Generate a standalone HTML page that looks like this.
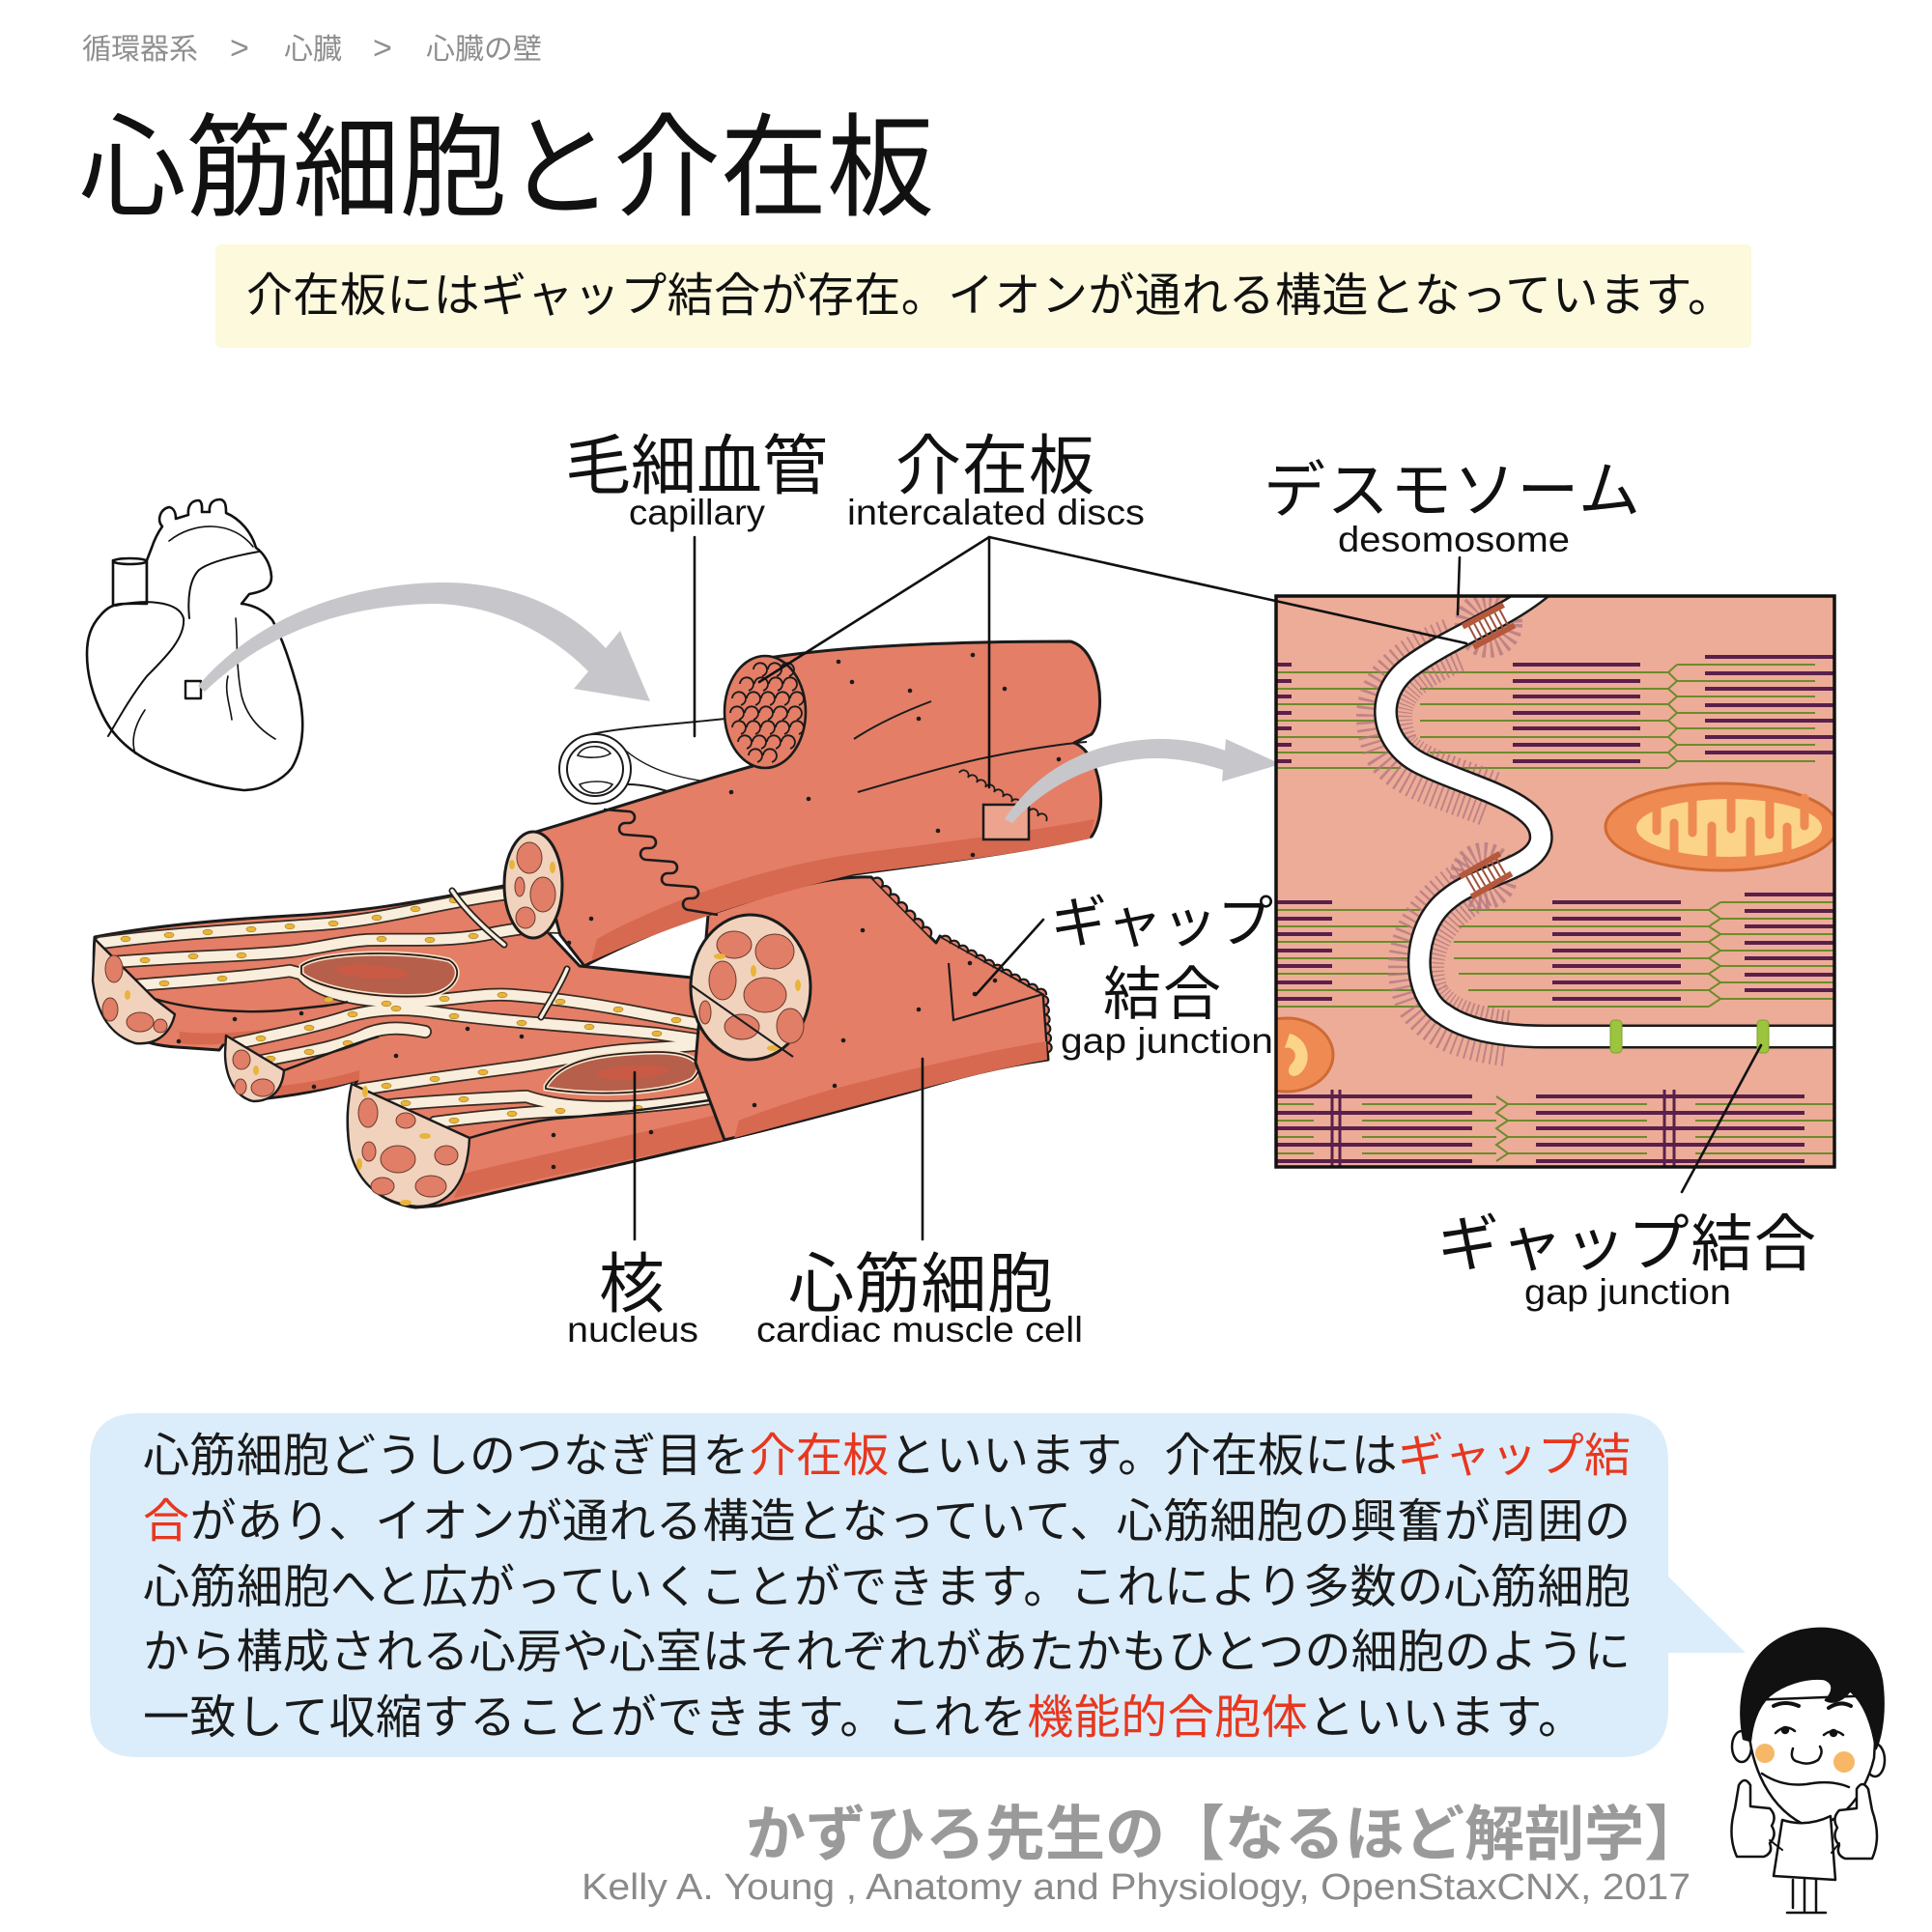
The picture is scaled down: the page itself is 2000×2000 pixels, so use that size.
<!DOCTYPE html>
<html><head><meta charset="utf-8">
<style>
html,body{margin:0;padding:0;background:#fff;}
svg{display:block;}
.jp{font-family:"Liberation Sans","Noto Sans CJK JP",sans-serif;}
.en{font-family:"Liberation Sans",sans-serif;}
</style></head><body>
<svg width="2000" height="2000" viewBox="0 0 2000 2000" xmlns="http://www.w3.org/2000/svg">
<defs>
  <clipPath id="bx"><rect x="1322" y="618" width="577" height="590"/></clipPath>
  <g id="stripes">
    <path d="M104,976 C180,966 260,962 330,957 C400,952 450,935 525,925"/>
    <path d="M118,996 C190,990 250,990 300,985 C330,982 350,975 380,973 C420,972 460,975 500,968 C530,962 555,958 580,960"/>
    <path d="M140,1020 C200,1015 250,1012 300,1005 L312,1008 C330,1030 380,1040 440,1036 C480,1034 500,1028 530,1030 C580,1034 620,1040 680,1052 C720,1060 760,1066 800,1070"/>
    <path d="M245,1080 C290,1070 330,1062 360,1052 C390,1044 420,1043 450,1048 C520,1058 600,1062 680,1070 C720,1076 760,1082 800,1085"/>
    <path d="M262,1100 C310,1090 350,1085 380,1070 C400,1062 420,1064 440,1068"/>
    <path d="M372,1128 C420,1120 480,1112 540,1104 C580,1098 620,1088 660,1086 C710,1084 750,1078 800,1075"/>
    <path d="M395,1145 C440,1140 500,1137 545,1135 C560,1140 580,1145 620,1146 C680,1147 730,1138 790,1128"/>
    <path d="M450,1162 C510,1154 560,1150 610,1149 C670,1147 730,1138 790,1126"/>
  </g>
</defs>

<!-- breadcrumb -->
<g class="jp" fill="#8e8e8e" font-size="30">
  <text x="85" y="61">循環器系</text>
  <text x="294" y="61">心臓</text>
  <text x="441" y="61">心臓の壁</text>
</g>
<g class="en" fill="#8e8e8e" font-size="34">
  <text x="238" y="61">&gt;</text>
  <text x="386" y="61">&gt;</text>
</g>

<!-- title -->
<text class="jp" x="82" y="214" font-size="116" fill="#111" textLength="885" lengthAdjust="spacingAndGlyphs">心筋細胞と介在板</text>

<!-- yellow box -->
<rect x="223" y="253" width="1590" height="107" rx="6" fill="#fcf9dd"/>
<text class="jp" x="255" y="322" font-size="48" fill="#111" textLength="1540">介在板にはギャップ結合が存在。イオンが通れる構造となっています。</text>

<!-- heart -->
<g fill="none" stroke="#111" stroke-width="2.6" stroke-linejoin="round" stroke-linecap="round">
  <path fill="#fff" d="M117,627 L117,580 L152,580 L152,625 Z"/>
  <ellipse cx="134.5" cy="581" rx="17.5" ry="3" fill="#fff"/>
  <path fill="#fff" d="M152,580 L157,567 C160,558 163,552 168,545 C162,538 166,527 175,525 C181,526 182,533 182,537 L195,533 C194,524 198,518 206,518 C210,520 209,527 209,530 L217,530 C216,522 220,517 228,517 C234,518 234,525 234,531 C248,537 260,550 265,567 C272,572 280,582 281,597 C281,608 274,612 258,615 L250,625 C262,626 274,632 282,642 C292,660 302,690 310,720 C316,750 314,775 302,795 C292,808 272,818 252,818 C230,816 200,808 165,793 C140,782 118,765 106,740 C96,720 90,700 90,677 C90,660 94,648 104,637 C110,630 114,628 120,626 C130,624 140,625 152,625 Z"/>
  <path stroke-width="1.6" d="M175,560 C200,540 240,538 262,566"/>
  <path stroke-width="2" d="M196,640 C194,620 196,600 206,590 C216,582 240,576 268,571"/>
  <path stroke-width="2" d="M120,627 C150,620 185,622 190,640 C192,660 172,680 152,700 C136,720 122,745 112,762"/>
  <path stroke-width="1.6" d="M244,640 C246,660 244,690 250,720 C255,740 268,755 285,765"/>
  <path stroke-width="1.6" d="M236,700 C232,715 238,730 240,745"/>
  <path stroke-width="1.6" d="M150,735 C140,750 135,765 140,780"/>
  <rect x="192" y="705" width="16" height="18" stroke-width="2.4"/>
</g>

<!-- arrow 1 -->
<path fill="#c7c7cb" d="M205,710 C260,645 350,605 455,603 C530,602 590,630 627,671 L642,653 L673,726 L594,713 L609,695 C575,660 520,628 455,625 C350,625 270,660 212,716 Z"/>

<!-- lower fiber group silhouette -->
<path fill="#e47e66" stroke="#1b1b1b" stroke-width="3" stroke-linejoin="round" d="M98,970 C160,958 230,952 300,948 C380,944 440,932 522,917 L600,1000 L716,1012 L800,1060 L950,1128 C870,1150 800,1168 750,1180 C650,1205 550,1225 455,1248 L430,1250 C395,1245 368,1225 361,1180 C358,1150 362,1130 370,1118 C340,1128 300,1135 259,1139 C245,1130 234,1105 236,1075 L227,1087 L183,1084 C150,1082 120,1070 105,1040 C98,1020 96,995 98,970 Z"/>
<!-- side shading -->
<path fill="#d6694f" d="M470,1240 C550,1222 650,1200 750,1180 L950,1128 C1000,1115 1050,1103 1085,1097 L1083,1075 C1000,1090 900,1110 800,1140 C700,1165 560,1195 480,1215 Z"/>
<path fill="#d6694f" d="M185,1080 C220,1084 260,1078 300,1072 L300,1062 C260,1068 220,1072 186,1068 Z"/>
<path fill="#d6694f" d="M268,1136 C300,1132 340,1128 372,1118 L372,1108 C340,1118 300,1124 268,1126 Z"/>
<!-- stripes -->
<use href="#stripes" fill="none" stroke="#3a2a22" stroke-width="14" stroke-linecap="round"/>
<use href="#stripes" fill="none" stroke="#f9eedc" stroke-width="10.5" stroke-linecap="round"/>
<!-- yellow dots -->
<g fill="#e9b43a" stroke="#a77a1c" stroke-width="0.6">
  <ellipse cx="130" cy="972" rx="5" ry="2.8"/><ellipse cx="175" cy="968" rx="5" ry="2.8"/><ellipse cx="215" cy="965" rx="5" ry="2.8"/><ellipse cx="260" cy="962" rx="5" ry="2.8"/><ellipse cx="300" cy="959" rx="5" ry="2.8"/><ellipse cx="345" cy="956" rx="5" ry="2.8"/><ellipse cx="390" cy="950" rx="5" ry="2.8"/><ellipse cx="430" cy="941" rx="5" ry="2.8"/><ellipse cx="470" cy="932" rx="5" ry="2.8"/>
  <ellipse cx="150" cy="994" rx="5" ry="2.8"/><ellipse cx="200" cy="990" rx="5" ry="2.8"/><ellipse cx="250" cy="989" rx="5" ry="2.8"/><ellipse cx="395" cy="972" rx="5" ry="2.8"/><ellipse cx="445" cy="973" rx="5" ry="2.8"/><ellipse cx="490" cy="969" rx="5" ry="2.8"/><ellipse cx="540" cy="960" rx="5" ry="2.8"/>
  <ellipse cx="170" cy="1018" rx="5" ry="2.8"/><ellipse cx="230" cy="1013" rx="5" ry="2.8"/><ellipse cx="340" cy="1035" rx="5" ry="2.8"/><ellipse cx="400" cy="1039" rx="5" ry="2.8"/><ellipse cx="460" cy="1034" rx="5" ry="2.8"/><ellipse cx="520" cy="1030" rx="5" ry="2.8"/><ellipse cx="580" cy="1037" rx="5" ry="2.8"/><ellipse cx="640" cy="1045" rx="5" ry="2.8"/><ellipse cx="700" cy="1056" rx="5" ry="2.8"/><ellipse cx="760" cy="1066" rx="5" ry="2.8"/>
  <ellipse cx="270" cy="1075" rx="5" ry="2.8"/><ellipse cx="320" cy="1064" rx="5" ry="2.8"/><ellipse cx="365" cy="1050" rx="5" ry="2.8"/><ellipse cx="410" cy="1044" rx="5" ry="2.8"/><ellipse cx="470" cy="1052" rx="5" ry="2.8"/><ellipse cx="540" cy="1059" rx="5" ry="2.8"/><ellipse cx="610" cy="1063" rx="5" ry="2.8"/><ellipse cx="680" cy="1070" rx="5" ry="2.8"/><ellipse cx="750" cy="1080" rx="5" ry="2.8"/>
  <ellipse cx="280" cy="1096" rx="5" ry="2.8"/><ellipse cx="320" cy="1089" rx="5" ry="2.8"/><ellipse cx="360" cy="1080" rx="5" ry="2.8"/>
  <ellipse cx="400" cy="1124" rx="5" ry="2.8"/><ellipse cx="450" cy="1117" rx="5" ry="2.8"/><ellipse cx="500" cy="1110" rx="5" ry="2.8"/><ellipse cx="740" cy="1081" rx="5" ry="2.8"/><ellipse cx="775" cy="1077" rx="5" ry="2.8"/>
  <ellipse cx="420" cy="1142" rx="5" ry="2.8"/><ellipse cx="480" cy="1138" rx="5" ry="2.8"/><ellipse cx="740" cy="1136" rx="5" ry="2.8"/>
  <ellipse cx="470" cy="1160" rx="5" ry="2.8"/><ellipse cx="530" cy="1153" rx="5" ry="2.8"/><ellipse cx="580" cy="1150" rx="5" ry="2.8"/><ellipse cx="660" cy="1147" rx="5" ry="2.8"/>
</g>
<!-- intercalated lines in fibers -->
<g fill="none" stroke-linecap="round">
  <path d="M468,922 C480,940 500,960 522,978" stroke="#222" stroke-width="7"/>
  <path d="M468,922 C480,940 500,960 522,978" stroke="#f9eedc" stroke-width="3.5"/>
  <path d="M587,1003 C580,1020 570,1035 560,1053" stroke="#222" stroke-width="7"/>
  <path d="M587,1003 C580,1020 570,1035 560,1053" stroke="#f9eedc" stroke-width="3.5"/>
</g>
<!-- fiber edges -->
<g fill="none" stroke="#1b1b1b" stroke-width="2.4">
  <path d="M102,979 L160,1034 C200,1046 260,1050 300,1045 C330,1042 350,1040 360,1037"/>
  <path d="M236,1076 L294,1108 C330,1095 360,1082 392,1073"/>
  <path d="M366,1124 L486,1178 C520,1168 550,1161 575,1158 C650,1152 720,1142 790,1130"/>
</g>
<!-- nuclei -->
<g stroke="#f6e4cc" stroke-width="5">
  <path fill="#b65f4b" d="M312,1000 C330,985 420,983 465,994 C482,1004 472,1028 440,1031 C390,1034 330,1024 312,1008 Z"/>
  <path fill="#b65f4b" d="M565,1124 C580,1100 612,1090 680,1089 C722,1089 732,1104 716,1118 C690,1131 620,1136 565,1127 Z"/>
</g>
<g fill="none" stroke="#2a1a14" stroke-width="1.8">
  <path d="M312,1000 C330,985 420,983 465,994 C482,1004 472,1028 440,1031 C390,1034 330,1024 312,1008 Z"/>
  <path d="M565,1124 C580,1100 612,1090 680,1089 C722,1089 732,1104 716,1118 C690,1131 620,1136 565,1127 Z"/>
</g>
<ellipse cx="385" cy="1006" rx="38" ry="7" fill="#c95a45" transform="rotate(4 385 1006)"/>
<ellipse cx="655" cy="1110" rx="38" ry="7" fill="#c95a45" transform="rotate(-4 655 1110)"/>

<!-- fiber cut ends -->
<g stroke="#1b1b1b" stroke-width="2.4" stroke-linejoin="round">
  <path fill="#f1d2bd" d="M98,972 L160,1034 L181,1050 C176,1072 160,1082 140,1080 C115,1072 100,1050 96,1015 Z"/>
  <path fill="#f1d2bd" d="M234,1072 L294,1108 C292,1130 280,1140 262,1140 C244,1136 233,1115 233,1090 Z"/>
  <path fill="#f1d2bd" d="M364,1122 L486,1178 C484,1225 465,1248 432,1249 C395,1246 370,1225 362,1190 C358,1160 360,1140 364,1122 Z"/>
</g>
<g fill="#e07e68" stroke="#6a3a2a" stroke-width="1">
  <ellipse cx="118" cy="1003" rx="9" ry="14"/><ellipse cx="145" cy="1058" rx="14" ry="10"/><ellipse cx="114" cy="1045" rx="8" ry="12"/><ellipse cx="166" cy="1062" rx="7" ry="7"/>
  <ellipse cx="250" cy="1097" rx="9" ry="10"/><ellipse cx="272" cy="1126" rx="12" ry="9"/><ellipse cx="249" cy="1125" rx="6" ry="8"/>
  <ellipse cx="381" cy="1152" rx="10" ry="15"/><ellipse cx="412" cy="1200" rx="18" ry="14"/><ellipse cx="446" cy="1228" rx="16" ry="11"/><ellipse cx="396" cy="1228" rx="12" ry="9"/><ellipse cx="462" cy="1196" rx="12" ry="10"/><ellipse cx="382" cy="1192" rx="7" ry="10"/><ellipse cx="420" cy="1160" rx="10" ry="8"/>
</g>
<g fill="#e9b43a">
  <ellipse cx="132" cy="1030" rx="3" ry="5"/><ellipse cx="378" cy="1130" rx="3" ry="6"/><ellipse cx="440" cy="1176" rx="6" ry="3"/><ellipse cx="372" cy="1205" rx="3" ry="6"/><ellipse cx="420" cy="1245" rx="6" ry="3"/><ellipse cx="265" cy="1108" rx="3" ry="5"/>
</g>

<!-- tube B body -->
<path fill="#e47e66" stroke="#1b1b1b" stroke-width="3" stroke-linejoin="round" d="M733,947 C790,928 850,906 902,908 L969,976 L973,969 L1080,1029 L1085,1097 C1030,1105 990,1116 950,1128 C870,1150 800,1168 750,1180 L720,1100 Z"/>
<path fill="#d6694f" d="M760,1178 C820,1162 880,1146 950,1128 C1000,1115 1050,1103 1084,1097 L1083,1078 C1010,1090 930,1110 860,1128 C820,1140 790,1150 765,1160 Z"/>
<!-- bumps on tube B -->
<g fill="#e47e66" stroke="#1b1b1b" stroke-width="2.2">
  <path d="M904,910 a6,6 0 0 1 8.4,8.5 a6,6 0 0 1 8.4,8.5 a6,6 0 0 1 8.4,8.5 a6,6 0 0 1 8.4,8.5 a6,6 0 0 1 8.4,8.5 a6,6 0 0 1 8.4,8.5 a6,6 0 0 1 8.4,8.5"/>
  <path d="M975,970 a5.5,5.5 0 0 1 9,5 a5.5,5.5 0 0 1 9,5 a5.5,5.5 0 0 1 9,5 a5.5,5.5 0 0 1 9,5 a5.5,5.5 0 0 1 9,5 a5.5,5.5 0 0 1 9,5 a5.5,5.5 0 0 1 9,5 a5.5,5.5 0 0 1 9,5 a5.5,5.5 0 0 1 9,5 a5.5,5.5 0 0 1 9,5 a5.5,5.5 0 0 1 9,5 a5.5,5.5 0 0 1 9,5"/>
  <path d="M1081,1031 a5,5 0 0 1 0.7,9.7 a5,5 0 0 1 0.7,9.7 a5,5 0 0 1 0.7,9.7 a5,5 0 0 1 0.7,9.7 a5,5 0 0 1 0.7,9.7 a5,5 0 0 1 0.7,9.7"/>
</g>
<path d="M982,997 L987,1056 L1080,1029" fill="none" stroke="#1b1b1b" stroke-width="2.2"/>
<!-- tube B ellipse -->
<ellipse cx="777" cy="1022" rx="62" ry="75" fill="#f1d2bd" stroke="#1b1b1b" stroke-width="3"/>
<g fill="#e07e68" stroke="#6a3a2a" stroke-width="1">
  <ellipse cx="760" cy="978" rx="18" ry="14"/><ellipse cx="802" cy="985" rx="20" ry="18"/><ellipse cx="748" cy="1015" rx="14" ry="20"/><ellipse cx="792" cy="1030" rx="22" ry="18"/><ellipse cx="818" cy="1062" rx="14" ry="18"/><ellipse cx="768" cy="1063" rx="18" ry="13"/><ellipse cx="730" cy="1048" rx="6" ry="12"/>
</g>
<g fill="#e9b43a"><ellipse cx="780" cy="1005" rx="3" ry="6"/><ellipse cx="745" cy="990" rx="6" ry="3"/><ellipse cx="800" cy="1085" rx="6" ry="3"/><ellipse cx="826" cy="1020" rx="3" ry="6"/></g>
<path d="M714,1019 L821,1094" stroke="#1b1b1b" stroke-width="2" fill="none"/>

<!-- capillary -->
<g fill="none" stroke="#1b1b1b" stroke-width="2">
  <path d="M612,760 C650,752 700,750 770,742"/>
  <path d="M650,812 C680,812 700,825 740,830"/>
  <path d="M640,770 C660,790 690,805 740,810" stroke-width="1.4"/>
  <ellipse cx="616" cy="796" rx="37" ry="36" fill="#fff"/>
  <ellipse cx="616" cy="796" rx="29" ry="28"/>
  <path d="M598,782 C604,770 624,770 632,780 C626,784 610,786 598,782 Z" stroke-width="1.6"/>
  <path d="M600,812 C606,824 626,824 634,812 C626,808 610,808 600,812 Z" stroke-width="1.6"/>
</g>

<!-- tube A body -->
<path fill="#e47e66" stroke="#1b1b1b" stroke-width="3" stroke-linejoin="round" d="M552,862 C620,842 700,815 790,790 L790,682 C850,672 950,664 1108,664 C1140,672 1146,740 1130,760 L1112,769 C1140,780 1148,840 1130,866 C1050,884 950,896 884,905 C800,920 690,955 605,1000 L580,968 Z"/>
<path fill="#d6694f" d="M612,995 C700,955 800,925 884,905 C960,895 1060,884 1128,868 L1133,848 C1060,862 960,874 884,884 C790,898 690,932 618,972 Z"/>
<g fill="none" stroke="#1b1b1b" stroke-width="2">
  <path d="M884,765 C910,748 940,735 964,726"/>
  <path d="M888,820 C940,805 990,790 1027,783 C1060,776 1100,770 1125,768"/>
</g>
<!-- zigzag intercalated disc -->
<path fill="none" stroke="#1b1b1b" stroke-width="2.6" stroke-linejoin="round" d="M625,838 l26,2 a6,6 0 0 1 0,12 l-4,0 a6,6 0 0 0 0,12 l26,2 a6,6 0 0 1 0,12 l-4,0 a6,6 0 0 0 0,12 l26,2 a6,6 0 0 1 0,12 l-4,0 a6,6 0 0 0 0,12 l26,2 a6,6 0 0 1 0,12 l-4,0 a6,6 0 0 0 0,12 l30,5"/>
<path fill="none" stroke="#1b1b1b" stroke-width="1.8" d="M993,800 a5,5 0 1 1 9,5 a5,5 0 1 1 9,5 a5,5 0 1 1 9,5 a5,5 0 1 1 9,5 a5,5 0 1 1 9,5 a5,5 0 1 1 9,5 a5,5 0 1 1 9,5 a5,5 0 1 1 9,5 a5,5 0 1 1 9,5 a5,5 0 1 1 9,5"/>
<!-- tube A left ellipse -->
<ellipse cx="552" cy="916" rx="30" ry="55" fill="#f1d2bd" stroke="#1b1b1b" stroke-width="3"/>
<g fill="#e07e68" stroke="#6a3a2a" stroke-width="1">
  <ellipse cx="548" cy="888" rx="13" ry="16"/><ellipse cx="562" cy="926" rx="13" ry="18"/><ellipse cx="544" cy="950" rx="10" ry="11"/><ellipse cx="538" cy="918" rx="5" ry="10"/>
</g>
<g fill="#e9b43a"><ellipse cx="572" cy="898" rx="3" ry="6"/><ellipse cx="530" cy="895" rx="3" ry="5"/></g>
<!-- scalloped end -->
<ellipse cx="792" cy="737" rx="42" ry="58" fill="#e47e66" stroke="#1b1b1b" stroke-width="2.6"/>
<path fill="none" stroke="#1b1b1b" stroke-width="1.8" d="M780,693 a7,7 0 1 1 9,7 M795,693 a7,7 0 1 1 9,7 M808,693 a7,7 0 1 1 9,7 M766,708 a7,7 0 1 1 9,7 M781,708 a7,7 0 1 1 9,7 M796,708 a7,7 0 1 1 9,7 M811,708 a7,7 0 1 1 9,7 M758,723 a7,7 0 1 1 9,7 M773,723 a7,7 0 1 1 9,7 M788,723 a7,7 0 1 1 9,7 M803,723 a7,7 0 1 1 9,7 M818,723 a7,7 0 1 1 9,7 M756,738 a7,7 0 1 1 9,7 M771,738 a7,7 0 1 1 9,7 M786,738 a7,7 0 1 1 9,7 M801,738 a7,7 0 1 1 9,7 M816,738 a7,7 0 1 1 9,7 M758,753 a7,7 0 1 1 9,7 M773,753 a7,7 0 1 1 9,7 M788,753 a7,7 0 1 1 9,7 M803,753 a7,7 0 1 1 9,7 M818,753 a7,7 0 1 1 9,7 M764,768 a7,7 0 1 1 9,7 M779,768 a7,7 0 1 1 9,7 M794,768 a7,7 0 1 1 9,7 M809,768 a7,7 0 1 1 9,7 M775,782 a7,7 0 1 1 9,7 M790,782 a7,7 0 1 1 9,7"/>
<!-- small square on tube -->
<rect x="1018" y="833" width="47" height="36" fill="#eda48f" stroke="#1b1b1b" stroke-width="2.5"/>

<!-- dots -->
<g fill="#1b1b1b">
  <circle cx="868" cy="685" r="2.3"/><circle cx="882" cy="706" r="2.3"/><circle cx="942" cy="715" r="2.3"/><circle cx="1007" cy="678" r="2.3"/><circle cx="1040" cy="713" r="2.3"/><circle cx="951" cy="744" r="2.3"/><circle cx="757" cy="820" r="2.3"/><circle cx="837" cy="827" r="2.3"/><circle cx="1096" cy="786" r="2.3"/><circle cx="971" cy="860" r="2.3"/><circle cx="1007" cy="885" r="2.3"/><circle cx="612" cy="951" r="2.3"/><circle cx="589" cy="976" r="2.3"/>
  <circle cx="893" cy="963" r="2.3"/><circle cx="951" cy="1045" r="2.3"/><circle cx="873" cy="1077" r="2.3"/><circle cx="864" cy="1124" r="2.3"/><circle cx="781" cy="1144" r="2.3"/><circle cx="1004" cy="997" r="2.3"/><circle cx="1009" cy="1029" r="2.3"/><circle cx="1030" cy="1015" r="2.3"/>
  <circle cx="185" cy="1078" r="2.3"/><circle cx="243" cy="1055" r="2.3"/><circle cx="312" cy="1049" r="2.3"/><circle cx="484" cy="1065" r="2.3"/><circle cx="540" cy="1073" r="2.3"/><circle cx="325" cy="1125" r="2.3"/><circle cx="410" cy="1093" r="2.3"/><circle cx="573" cy="1175" r="2.3"/><circle cx="674" cy="1172" r="2.3"/><circle cx="573" cy="1208" r="2.3"/>
</g>

<!-- arrow 2 -->
<path fill="#c7c7cb" d="M1040,848 C1075,795 1130,768 1195,765 C1230,764 1255,772 1268,777 L1269,765 L1326,791 L1265,809 L1266,797 C1250,792 1225,785 1195,785 C1140,786 1085,810 1048,852 Z"/>

<!-- right box -->
<rect x="1321" y="617" width="578" height="591" fill="#ecac97"/>
<g clip-path="url(#bx)">
  <g stroke="#6d8b2c" stroke-width="2" fill="none">
    <path d="M1321,696 H1440 M1321,713 H1440 M1321,729 H1440 M1321,746 H1440 M1321,763 H1440 M1321,779 H1440 M1321,795 H1450"/>
    <path d="M1470,696 H1727 M1470,713 H1727 M1470,729 H1727 M1470,746 H1727 M1470,763 H1727 M1480,779 H1727 M1500,795 H1727"/>
    <path d="M1736,688 H1879 M1736,705 H1879 M1736,721 H1879 M1736,738 H1879 M1736,754 H1879 M1736,771 H1879 M1736,788 H1879"/>
    <path d="M1736,688 L1727,696 L1736,705 L1727,713 L1736,721 L1727,729 L1736,738 L1727,746 L1736,754 L1727,763 L1736,771 L1727,779 L1736,788 L1727,795"/>
  </g>
  <g stroke="#5b1f4c" stroke-width="4" fill="none">
    <path d="M1321,688 H1337 M1321,705 H1337 M1321,721 H1337 M1321,738 H1337 M1321,754 H1337 M1321,771 H1337 M1321,788 H1337"/>
    <path d="M1566,688 H1698 M1566,705 H1698 M1566,721 H1698 M1566,738 H1698 M1566,754 H1698 M1566,771 H1698 M1566,788 H1698"/>
    <path d="M1765,680 H1898 M1765,697 H1898 M1765,713 H1898 M1765,730 H1898 M1765,746 H1898 M1765,763 H1898 M1765,779 H1898"/>
  </g>
  <g stroke="#6d8b2c" stroke-width="2" fill="none">
    <path d="M1321,942 H1470 M1321,959 H1460 M1321,975 H1460 M1321,992 H1460 M1321,1008 H1465 M1321,1025 H1475 M1321,1042 H1490"/>
    <path d="M1520,942 H1769 M1510,959 H1769 M1505,975 H1769 M1505,992 H1769 M1510,1008 H1769 M1520,1025 H1769 M1540,1042 H1769"/>
    <path d="M1781,934 H1898 M1781,951 H1898 M1781,967 H1898 M1781,984 H1898 M1781,1000 H1898 M1781,1017 H1898 M1781,1034 H1898"/>
    <path d="M1781,934 L1769,942 L1781,951 L1769,959 L1781,967 L1769,975 L1781,984 L1769,992 L1781,1000 L1769,1008 L1781,1017 L1769,1025 L1781,1034 L1769,1042"/>
  </g>
  <g stroke="#5b1f4c" stroke-width="4" fill="none">
    <path d="M1321,934 H1379 M1321,951 H1379 M1321,967 H1379 M1321,984 H1379 M1321,1000 H1379 M1321,1017 H1379 M1321,1034 H1379"/>
    <path d="M1607,934 H1740 M1607,951 H1740 M1607,967 H1740 M1607,984 H1740 M1607,1000 H1740 M1607,1017 H1740 M1607,1034 H1740"/>
    <path d="M1806,926 H1898 M1806,943 H1898 M1806,959 H1898 M1806,976 H1898 M1806,992 H1898 M1806,1009 H1898 M1806,1025 H1898"/>
  </g>
  <g stroke="#6d8b2c" stroke-width="2" fill="none">
    <path d="M1321,1143 H1360 M1321,1160 H1360 M1321,1177 H1360 M1321,1194 H1360"/>
    <path d="M1410,1143 H1549 M1410,1160 H1549 M1410,1177 H1549 M1410,1194 H1549"/>
    <path d="M1549,1135 L1561,1143 L1549,1152 L1561,1160 L1549,1168 L1561,1177 L1549,1185 L1561,1194 L1549,1202"/>
    <path d="M1561,1143 H1705 M1561,1160 H1705 M1561,1177 H1705 M1561,1194 H1705"/>
    <path d="M1755,1143 H1898 M1755,1160 H1898 M1755,1177 H1898 M1755,1194 H1898"/>
  </g>
  <g stroke="#5b1f4c" stroke-width="4" fill="none">
    <path d="M1321,1135 H1524 M1321,1152 H1524 M1321,1168 H1524 M1321,1185 H1524 M1321,1202 H1524"/>
    <path d="M1590,1135 H1868 M1590,1152 H1868 M1590,1168 H1868 M1590,1185 H1868 M1590,1202 H1868"/>
  </g>
  <g stroke="#5b1f4c" stroke-width="3" fill="none">
    <path d="M1379,1128 V1210 M1387,1128 V1210 M1723,1128 V1210 M1733,1128 V1210"/>
  </g>
  <ellipse cx="1782" cy="856" rx="120" ry="45" fill="#ef8a52" stroke="#cf6a35" stroke-width="3"/>
  <ellipse cx="1790" cy="857" rx="96" ry="30" fill="#fbd48a"/>
  <g stroke="#ef8a52" stroke-width="9" stroke-linecap="round">
    <path d="M1715,826 V860 M1752,826 V862 M1792,826 V858 M1832,826 V864 M1868,826 V855"/>
    <path d="M1733,888 V852 M1772,888 V855 M1812,888 V850 M1850,888 V856"/>
  </g>
  <ellipse cx="1332" cy="1092" rx="48" ry="38" fill="#ef8a52" stroke="#cf6a35" stroke-width="3"/>
  <path d="M1335,1070 C1355,1075 1360,1100 1345,1112 C1335,1118 1330,1108 1338,1100 C1345,1092 1338,1082 1330,1085 Z" fill="#fbd48a"/>
  <g fill="none" stroke="#b07582" stroke-opacity="0.75">
    <path d="M1505,668 C1450,690 1418,720 1440,775 C1455,800 1500,810 1545,828" stroke-width="58" stroke-dasharray="2 4"/>
    <path d="M1530,912 C1480,940 1452,985 1473,1035 C1490,1060 1520,1070 1560,1075" stroke-width="58" stroke-dasharray="2 4"/>
    <circle cx="1541" cy="646" r="18" stroke-width="34" stroke-dasharray="2 3"/>
    <circle cx="1536" cy="907" r="18" stroke-width="34" stroke-dasharray="2 3"/>
  </g>
  <path fill="none" stroke="#1b1b1b" stroke-width="25" d="M1600,605 C1560,640 1500,660 1460,690 C1420,720 1430,770 1470,790 C1520,815 1600,830 1595,870 C1590,900 1530,905 1500,930 C1460,960 1460,1030 1495,1050 C1520,1068 1560,1073 1600,1073 L1910,1073"/>
  <path fill="none" stroke="#ffffff" stroke-width="20" d="M1600,605 C1560,640 1500,660 1460,690 C1420,720 1430,770 1470,790 C1520,815 1600,830 1595,870 C1590,900 1530,905 1500,930 C1460,960 1460,1030 1495,1050 C1520,1068 1560,1073 1600,1073 L1910,1073"/>
  <g transform="translate(1541,648) rotate(-28)">
    <rect x="-24" y="-15" width="48" height="6" fill="#b5583c"/>
    <rect x="-24" y="9" width="48" height="6" fill="#b5583c"/>
    <path d="M-18,-9 V9 M-12,-9 V9 M-6,-9 V9 M0,-9 V9 M6,-9 V9 M12,-9 V9 M18,-9 V9" stroke="#a0503a" stroke-width="2"/>
  </g>
  <g transform="translate(1538,906) rotate(-30)">
    <rect x="-24" y="-15" width="48" height="6" fill="#b5583c"/>
    <rect x="-24" y="9" width="48" height="6" fill="#b5583c"/>
    <path d="M-18,-9 V9 M-12,-9 V9 M-6,-9 V9 M0,-9 V9 M6,-9 V9 M12,-9 V9 M18,-9 V9" stroke="#a0503a" stroke-width="2"/>
  </g>
  <rect x="1667" y="1056" width="12" height="34" rx="4" fill="#9cc43e" stroke="#7ea22a" stroke-width="1"/>
  <rect x="1819" y="1056" width="12" height="34" rx="4" fill="#9cc43e" stroke="#7ea22a" stroke-width="1"/>
</g>
<rect x="1321" y="617" width="578" height="591" fill="none" stroke="#111" stroke-width="3.5"/>

<!-- connector lines -->
<g stroke="#111" stroke-width="2.6" fill="none" stroke-linecap="round">
  <path d="M719,556 V762"/>
  <path d="M786,706 L1024,556 L1518,666"/>
  <path d="M1024,556 V815"/>
  <path d="M1511,577 L1509,636"/>
  <path d="M1080,952 L1010,1030"/>
  <path d="M657,1110 V1283"/>
  <path d="M955,1096 V1283"/>
  <path d="M1823,1082 L1741,1234"/>
</g>

<!-- labels -->
<g class="jp" fill="#111">
  <text x="585" y="506" font-size="68" textLength="272">毛細血管</text>
  <text x="927" y="506" font-size="68" textLength="206">介在板</text>
  <text x="1308" y="530" font-size="64" textLength="390">デスモソーム</text>
  <text x="1088" y="975" font-size="58" textLength="230">ギャップ</text>
  <text x="1142" y="1050" font-size="60" textLength="122">結合</text>
  <text x="620" y="1353" font-size="68" textLength="68">核</text>
  <text x="816" y="1353" font-size="68" textLength="274">心筋細胞</text>
  <text x="1488" y="1310" font-size="64" textLength="392">ギャップ結合</text>
</g>
<g class="en" fill="#111" font-size="37">
  <text x="651" y="543" textLength="141" lengthAdjust="spacingAndGlyphs">capillary</text>
  <text x="877" y="543" textLength="308" lengthAdjust="spacingAndGlyphs">intercalated discs</text>
  <text x="1385" y="571" textLength="240" lengthAdjust="spacingAndGlyphs">desomosome</text>
  <text x="1098" y="1090" textLength="220" lengthAdjust="spacingAndGlyphs">gap junction</text>
  <text x="587" y="1389" textLength="136" lengthAdjust="spacingAndGlyphs">nucleus</text>
  <text x="783" y="1389" textLength="338" lengthAdjust="spacingAndGlyphs">cardiac muscle cell</text>
  <text x="1578" y="1350" textLength="214" lengthAdjust="spacingAndGlyphs">gap junction</text>
</g>

<!-- callout -->
<path fill="#dbedfa" d="M143,1463 H1677 Q1727,1463 1727,1513 V1632 L1807,1711 L1727,1711 V1769 Q1727,1819 1677,1819 H143 Q93,1819 93,1769 V1513 Q93,1463 143,1463 Z"/>
<g class="jp" font-size="48" fill="#1a1a1a">
  <text x="148" y="1523" textLength="1540">心筋細胞どうしのつなぎ目を<tspan fill="#e8371f">介在板</tspan>といいます。介在板には<tspan fill="#e8371f">ギャップ結</tspan></text>
  <text x="148" y="1591" textLength="1540"><tspan fill="#e8371f">合</tspan>があり、イオンが通れる構造となっていて、心筋細胞の興奮が周囲の</text>
  <text x="148" y="1659" textLength="1540">心筋細胞へと広がっていくことができます。これにより多数の心筋細胞</text>
  <text x="148" y="1726" textLength="1540">から構成される心房や心室はそれぞれがあたかもひとつの細胞のように</text>
  <text x="148" y="1794" textLength="1492">一致して収縮することができます。これを<tspan fill="#e8371f">機能的合胞体</tspan>といいます。</text>
</g>

<!-- footer -->
<text class="jp" x="772" y="1920" font-size="62" font-weight="bold" fill="#9a9a9a" textLength="992">かずひろ先生の【なるほど解剖学】</text>
<text class="en" x="602" y="1966" font-size="38" fill="#8a8a8a" textLength="1148" lengthAdjust="spacingAndGlyphs">Kelly A. Young , Anatomy and Physiology, OpenStaxCNX, 2017</text>

<!-- doctor -->
<g stroke="#111" stroke-width="2.5" stroke-linejoin="round" stroke-linecap="round">
  <ellipse cx="1803" cy="1808" rx="10" ry="16" fill="#fff"/>
  <ellipse cx="1941" cy="1822" rx="10" ry="17" fill="#fff"/>
  <path fill="#fff" d="M1810,1760 C1806,1820 1828,1868 1866,1888 C1900,1896 1930,1862 1940,1820 L1944,1755 Z"/>
  <path fill="#111" d="M1805,1800 C1795,1745 1815,1700 1865,1688 C1905,1680 1940,1695 1948,1740 C1952,1770 1948,1795 1942,1810 C1938,1785 1930,1762 1915,1750 C1908,1760 1898,1764 1890,1760 C1898,1752 1900,1742 1888,1738 C1868,1736 1845,1744 1832,1755 C1820,1766 1814,1782 1812,1802 Z"/>
  <path fill="none" stroke-width="4" d="M1836,1766 Q1848,1760 1862,1766 M1893,1768 Q1905,1760 1916,1766"/>
  <path fill="none" d="M1838,1794 Q1848,1784 1858,1792 M1888,1796 Q1898,1788 1908,1796"/>
  <circle cx="1848" cy="1791" r="3" fill="#111"/><circle cx="1898" cy="1794" r="3" fill="#111"/>
  <path fill="none" d="M1856,1810 Q1852,1822 1862,1824 Q1872,1828 1882,1822 Q1888,1814 1884,1808"/>
  <path fill="none" d="M1824,1836 Q1845,1850 1870,1847 Q1895,1842 1914,1850"/>
  <path fill="#fff" d="M1845,1884 L1836,1942 L1900,1946 L1895,1880 Q1870,1892 1845,1884 Z"/>
  <path fill="none" d="M1856,1946 L1856,1975 M1868,1946 L1868,1978 M1880,1946 L1880,1978 M1850,1980 L1890,1980"/>
  <path fill="#fff" d="M1796,1872 L1800,1848 Q1806,1838 1812,1848 L1812,1870 L1832,1872 Q1840,1880 1834,1890 Q1840,1900 1832,1908 Q1836,1918 1826,1922 L1798,1922 Q1788,1900 1796,1872 Z"/>
  <path fill="#fff" d="M1938,1874 L1934,1852 Q1928,1842 1922,1852 L1922,1872 L1904,1874 Q1896,1882 1902,1892 Q1896,1902 1904,1910 Q1900,1920 1910,1924 L1938,1924 Q1948,1902 1938,1874 Z"/>
  <path fill="none" stroke-width="2" d="M1832,1905 L1845,1915 M1904,1908 L1896,1918"/>
</g>
<circle cx="1827" cy="1815" r="10" fill="#f6b866"/>
<circle cx="1909" cy="1824" r="11" fill="#f6b866"/>
</svg>
</body></html>
